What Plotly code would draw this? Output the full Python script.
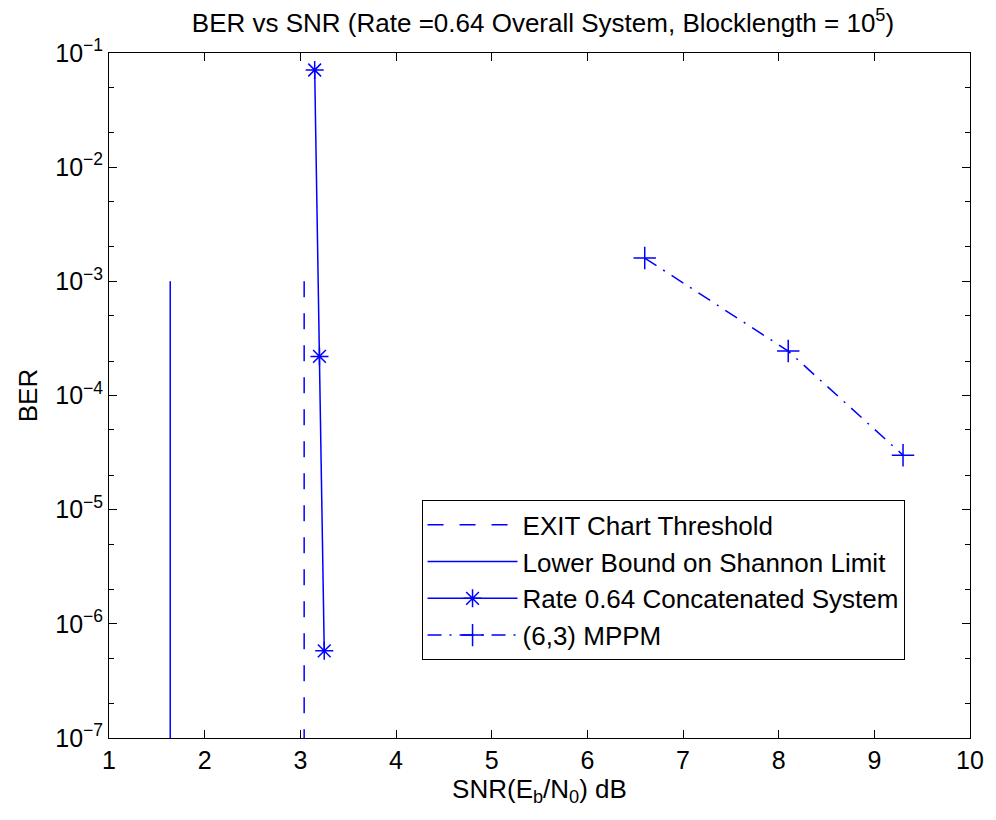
import plotly.graph_objects as go

# ---- data ----
shannon_x = [1.64, 1.64]
shannon_y = [1e-3, 1e-7]
exit_x = [3.04, 3.04]
exit_y = [1e-3, 1e-7]
concat_x = [3.15, 3.20, 3.25]
concat_y = [7.1e-2, 2.2e-4, 5.8e-7]
mppm_x = [6.6, 8.1, 9.3]
mppm_y = [1.6e-3, 2.45e-4, 3.0e-5]

x_ticks = [1, 2, 3, 4, 5, 6, 7, 8, 9, 10]
y_ticks = [1e-7, 1e-6, 1e-5, 1e-4, 1e-3, 1e-2, 1e-1]
y_ticktext = ["10<sup>\u22127</sup>", "10<sup>\u22126</sup>", "10<sup>\u22125</sup>",
              "10<sup>\u22124</sup>", "10<sup>\u22123</sup>", "10<sup>\u22122</sup>",
              "10<sup>\u22121</sup>"]

BLUE = "#0000FF"
FONT = "Liberation Sans, Arial, sans-serif"

fig = go.Figure()
fig.add_trace(go.Scatter(x=exit_x, y=exit_y, mode="lines", name="EXIT Chart Threshold",
                         line=dict(color=BLUE, width=1.5, dash="16px,16px")))
fig.add_trace(go.Scatter(x=shannon_x, y=shannon_y, mode="lines", name="Lower Bound on Shannon Limit",
                         line=dict(color=BLUE, width=1.5)))
fig.add_trace(go.Scatter(x=concat_x, y=concat_y, mode="lines+markers", name="Rate 0.64 Concatenated System",
                         line=dict(color=BLUE, width=1.5),
                         marker=dict(symbol="asterisk-open", size=15, color=BLUE,
                                     line=dict(color=BLUE, width=1.5))))
fig.add_trace(go.Scatter(x=mppm_x, y=mppm_y, mode="lines+markers", name="(6,3) MPPM",
                         line=dict(color=BLUE, width=1.5, dash="14px,8px,2px,8px"),
                         marker=dict(symbol="cross-thin-open", size=16, color=BLUE,
                                     line=dict(color=BLUE, width=1.5))))

axis_common = dict(showline=True, linecolor="black", linewidth=1, mirror="ticks",
                   ticks="inside", ticklen=8, tickcolor="black", showgrid=False,
                   zeroline=False, tickfont=dict(family=FONT, size=25, color="black"))

fig.update_xaxes(range=[1, 10], tickmode="array", tickvals=x_ticks,
                 title=dict(text="SNR(E<sub>b</sub>/N<sub>0</sub>) dB",
                            font=dict(family=FONT, size=26, color="black"), standoff=2),
                 **axis_common)
fig.update_yaxes(type="log", range=[-7, -1], tickmode="array", tickvals=y_ticks,
                 ticktext=y_ticktext,
                 minor=dict(ticks="inside", ticklen=5, tickcolor="black", showgrid=False),
                 title=dict(text="BER", font=dict(family=FONT, size=26, color="black"), standoff=10),
                 **axis_common)

fig.update_layout(
    width=996, height=820,
    margin=dict(l=109, r=19, t=53, b=82),
    plot_bgcolor="white", paper_bgcolor="white",
    title=dict(text="BER vs SNR (Rate =0.64 Overall System, Blocklength = 10<sup>5</sup>)",
               x=(109 + 977) / 2 / 996, xanchor="center", y=0.972, yanchor="middle",
               font=dict(family=FONT, size=26, color="black")),
    legend=dict(x=0.363, y=0.347, xanchor="left", yanchor="top",
                bgcolor="white", bordercolor="black", borderwidth=1,
                font=dict(family=FONT, size=26, color="black"),
                itemwidth=90, tracegroupgap=0),
    showlegend=True,
)

fig.write_html("out.html")
